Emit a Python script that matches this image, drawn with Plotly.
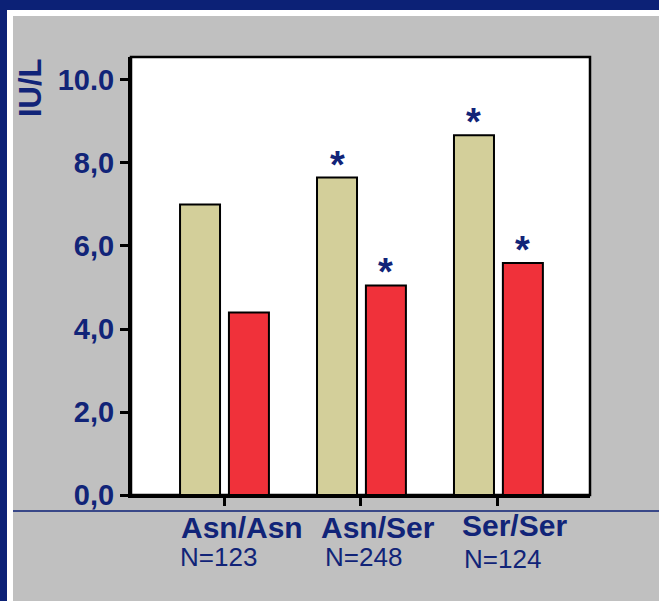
import plotly.graph_objects as go

# ---- data ----
genotypes = ["Asn/Asn", "Asn/Ser", "Ser/Ser"]
n_labels = ["N=123", "N=248", "N=124"]
series_a = [7.0, 7.65, 8.67]     # tan bars
series_b = [4.4, 5.05, 5.59]     # red bars
sig_a = [False, True, True]
sig_b = [False, True, True]
y_ticks = [0, 2, 4, 6, 8, 10]
y_ticktext = ["0,0", "2,0", "4,0", "6,0", "8,0", "10.0"]
y_title = "IU/L"

# ---- style / layout ----
W, H = 659, 601
L, R, T, B = 131, 590, 57, 495
PW, PH = R - L, B - T
NAVY = "#0c2176"
TXT = "#112478"
GREY = "#c0c0c0"
TAN = "#d3cf9a"
RED = "#f0313a"
FONT = "Arial, Liberation Sans, sans-serif"

def px2x(px):
    return (px - L) / PW

def py2y(py):
    return (B - py) / PH

xs = list(range(len(genotypes)))
bw = 0.292
off_a = -0.321
off_b = 0.036

fig = go.Figure()
fig.add_trace(go.Bar(x=xs, y=series_a, width=bw, offset=off_a,
                     marker=dict(color=TAN, line=dict(color="black", width=2)),
                     showlegend=False, hoverinfo="y"))
fig.add_trace(go.Bar(x=xs, y=series_b, width=bw, offset=off_b,
                     marker=dict(color=RED, line=dict(color="black", width=2)),
                     showlegend=False, hoverinfo="y"))

shapes = [
    dict(type="rect", xref="paper", yref="paper", x0=px2x(7), x1=px2x(W),
         y0=py2y(10), y1=py2y(H), fillcolor="white", line=dict(width=0), layer="below"),
    dict(type="rect", xref="paper", yref="paper", x0=px2x(13), x1=px2x(W),
         y0=py2y(16), y1=py2y(H), fillcolor=GREY, line=dict(width=0), layer="below"),
    dict(type="rect", xref="paper", yref="paper", x0=0, x1=1, y0=0, y1=1,
         fillcolor="white", line=dict(color="black", width=2.5), layer="below"),
    dict(type="line", xref="paper", yref="paper", x0=px2x(13), x1=px2x(W),
         y0=py2y(511), y1=py2y(511), line=dict(color=NAVY, width=1.5), layer="below"),
]

annotations = []
# significance asterisks
for i in xs:
    if sig_a[i]:
        annotations.append(dict(x=i + off_a + bw / 2, y=series_a[i], xref="x", yref="y",
                                text="*", showarrow=False, yanchor="bottom", yshift=-10,
                                font=dict(family=FONT, size=38, color=TXT, weight="bold")))
    if sig_b[i]:
        annotations.append(dict(x=i + off_b + bw / 2, y=series_b[i], xref="x", yref="y",
                                text="*", showarrow=False, yanchor="bottom", yshift=-10,
                                font=dict(family=FONT, size=38, color=TXT, weight="bold")))

# category labels
name_shift = [18, 17, 17]
name_y = [527, 527, 525]
n_shift = [-6, 3, 5]
n_y = [557, 557, 559]
for i in xs:
    annotations.append(dict(x=i, y=0, xref="x", yref="paper", text=genotypes[i],
                            showarrow=False, xanchor="center", yanchor="middle",
                            xshift=name_shift[i], yshift=-(name_y[i] - B),
                            font=dict(family=FONT, size=30, color=TXT, weight="bold")))
    annotations.append(dict(x=i, y=0, xref="x", yref="paper", text=n_labels[i],
                            showarrow=False, xanchor="center", yanchor="middle",
                            xshift=n_shift[i], yshift=-(n_y[i] - B),
                            font=dict(family=FONT, size=26, color=TXT)))

# y-axis title
annotations.append(dict(x=px2x(30), y=py2y(88), xref="paper", yref="paper", text=y_title,
                        textangle=-90, showarrow=False, xanchor="center", yanchor="middle",
                        font=dict(family=FONT, size=31, color=TXT, weight="bold")))

fig.update_layout(
    width=W, height=H,
    margin=dict(l=L, r=W - R, t=T, b=H - B, pad=0),
    paper_bgcolor=NAVY, plot_bgcolor="white",
    shapes=shapes, annotations=annotations,
    barmode="overlay",
    xaxis=dict(range=[-0.679, 2.672], tickvals=xs, ticktext=["", "", ""],
               showgrid=False, zeroline=False, showline=True, linecolor="black", linewidth=3,
               ticks="outside", ticklen=8, tickwidth=3, tickcolor="black", fixedrange=True),
    yaxis=dict(range=[0, 10.554], tickvals=y_ticks, ticktext=y_ticktext,
               showgrid=False, zeroline=False, showline=True, linecolor="black", linewidth=3,
               ticks="outside", ticklen=8, tickwidth=3, tickcolor="black",
               tickfont=dict(family=FONT, size=29, color=TXT, weight="bold"),
               fixedrange=True),
)

fig.write_html("out.html", config={"displayModeBar": False},
               post_script="document.body.style.margin='0';document.body.style.overflow='hidden';")
